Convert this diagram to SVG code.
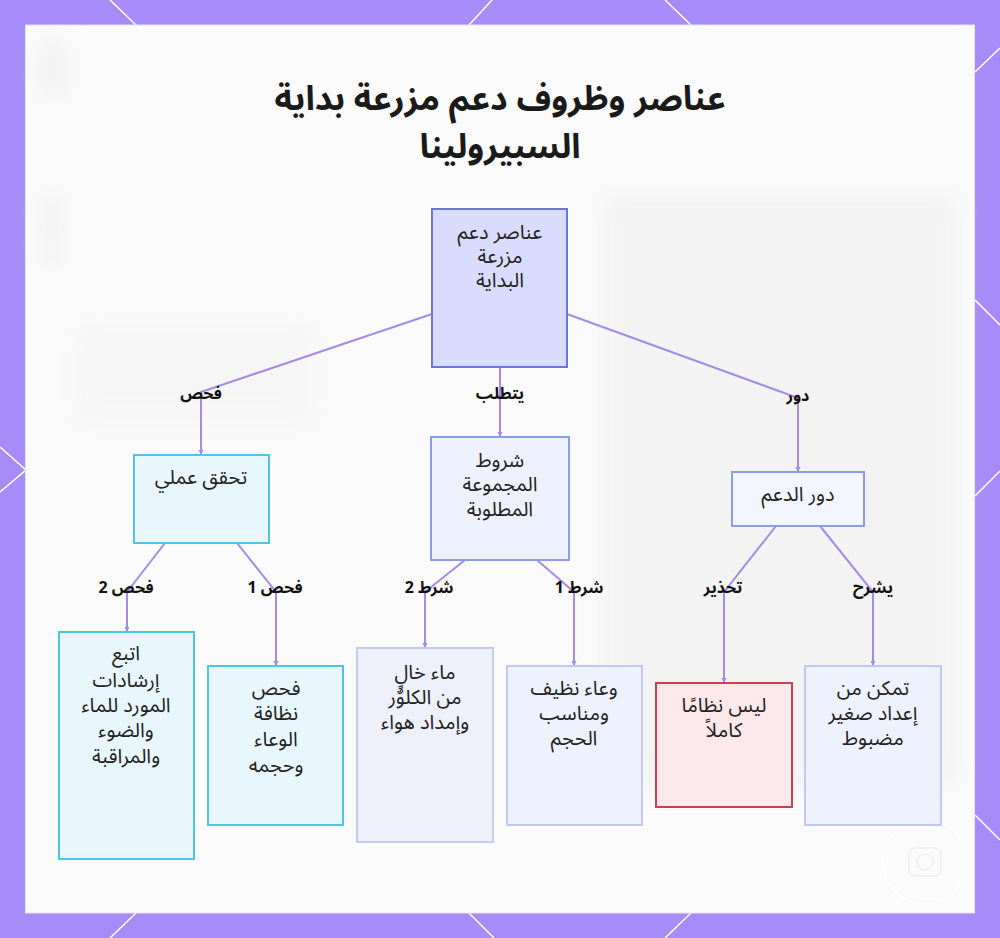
<svg xmlns="http://www.w3.org/2000/svg" width="1000" height="938" viewBox="0 0 1000 938">
<defs>
<style>
.t{font-family:"Noto Sans Arabic","Noto Sans","DejaVu Sans",sans-serif;fill:#222;text-anchor:middle}
.title{font-size:34px;font-weight:700;fill:#1a1a1a}
.nt{font-size:20px}
.lb{font-size:16px;font-weight:700;fill:#111}
.e{fill:none;stroke:#a58be8;stroke-width:2}
.deco{stroke:#fff;stroke-width:1.5;fill:none}
</style>
<filter id="blur" x="-20%" y="-20%" width="140%" height="140%"><feGaussianBlur stdDeviation="14"/></filter>
<marker id="ah" markerWidth="6" markerHeight="6" refX="5" refY="3" orient="auto" markerUnits="userSpaceOnUse"><path d="M0,0.5 L5,3 L0,5.5 z" fill="#a58be8"/></marker>
</defs>
<rect width="1000" height="938" fill="#a78bf8"/>
<g class="deco">
<path d="M110,0 L136,25 M492,0 L469,25 M665,0 L691,25"/>
<path d="M136,913 L110,938 M469,913 L494,938 M691,913 L665,938"/>
<path d="M0,447 L26,470 L0,492"/>
<path d="M975,72 L1000,48 M975,300 L1000,325 M975,496 L1000,471 M975,815 L1000,840"/>
</g>
<rect x="25.5" y="25" width="949" height="888" fill="#fbfbfb" stroke="#e8e2fb" stroke-width="1"/>
<g filter="url(#blur)" opacity="0.4">
<rect x="600" y="190" width="360" height="600" fill="#e6e9e6"/>
<rect x="40" y="40" width="26" height="60" fill="#e0e0e0"/>
<rect x="40" y="190" width="24" height="80" fill="#e4e4e4"/>
<rect x="70" y="320" width="250" height="110" fill="#f0f0f0"/>
</g>
<g opacity="0.7">
<circle cx="925" cy="862" r="42" fill="none" stroke="#ffffff" stroke-width="1.5"/>
<rect x="909" y="848" width="32" height="28" rx="6" fill="none" stroke="#e6e6e6" stroke-width="1.2"/>
<circle cx="925" cy="862" r="8" fill="none" stroke="#e6e6e6" stroke-width="1.2"/>
</g>
<g id="title">
<text class="t title" x="500" y="110">عناصر وظروف دعم مزرعة بداية</text>
<text class="t title" x="500" y="158">السبيرولينا</text>
</g>
<g id="connectors">
<path class="e" d="M432,314 L201,392 L201,455" marker-end="url(#ah)"/>
<path class="e" d="M500,367 L500,437" marker-end="url(#ah)"/>
<path class="e" d="M567,314 L798,398 L798,472" marker-end="url(#ah)"/>
<path class="e" d="M165,543 L127,592 L127,632" marker-end="url(#ah)"/>
<path class="e" d="M237,543 L276,592 L276,666" marker-end="url(#ah)"/>
<path class="e" d="M465,560 L425,592 L425,648" marker-end="url(#ah)"/>
<path class="e" d="M537,560 L574,592 L574,666" marker-end="url(#ah)"/>
<path class="e" d="M776,526 L724,592 L724,683" marker-end="url(#ah)"/>
<path class="e" d="M820,526 L873,592 L873,666" marker-end="url(#ah)"/>
<text class="t lb" x="201" y="399">فحص</text>
<text class="t lb" x="500" y="399">يتطلب</text>
<text class="t lb" x="798" y="401">دور</text>
<text class="t lb" x="126" y="593">فحص 2</text>
<text class="t lb" x="275" y="593">فحص 1</text>
<text class="t lb" x="429" y="593">شرط 2</text>
<text class="t lb" x="579" y="593">شرط 1</text>
<text class="t lb" x="723" y="593">تحذير</text>
<text class="t lb" x="873" y="593">يشرح</text>
</g>
<g id="root">
<rect x="432" y="209" width="135" height="158" fill="#d9dcfc" stroke="#6f75d9" stroke-width="2"/>
<text class="t nt" x="500" y="239">عناصر دعم</text>
<text class="t nt" x="500" y="263">مزرعة</text>
<text class="t nt" x="500" y="287">البداية</text>
</g>
<g id="practical">
<rect x="134" y="455" width="135" height="88" fill="#e8f7fd" stroke="#4fc4e6" stroke-width="2"/>
<text class="t nt" x="201" y="484">تحقق عملي</text>
</g>
<g id="conditions">
<rect x="431" y="437" width="138" height="123" fill="#eef2fe" stroke="#8d9ce6" stroke-width="2"/>
<text class="t nt" x="500" y="467">شروط</text>
<text class="t nt" x="500" y="491">المجموعة</text>
<text class="t nt" x="500" y="516">المطلوبة</text>
</g>
<g id="role">
<rect x="732" y="472" width="132" height="54" fill="#f4f6ff" stroke="#8d9ce6" stroke-width="2"/>
<text class="t nt" x="798" y="501">دور الدعم</text>
</g>
<g id="check2">
<rect x="59" y="632" width="135" height="227" fill="#e8f7fd" stroke="#4fc4e6" stroke-width="2"/>
<text class="t nt" x="126" y="660">اتبع</text>
<text class="t nt" x="126" y="687">إرشادات</text>
<text class="t nt" x="126" y="712">المورد للماء</text>
<text class="t nt" x="126" y="737">والضوء</text>
<text class="t nt" x="126" y="763">والمراقبة</text>
</g>
<g id="check1">
<rect x="208" y="666" width="135" height="159" fill="#e8f7fd" stroke="#4fc4e6" stroke-width="2"/>
<text class="t nt" x="276" y="695">فحص</text>
<text class="t nt" x="276" y="720">نظافة</text>
<text class="t nt" x="276" y="746">الوعاء</text>
<text class="t nt" x="276" y="772">وحجمه</text>
</g>
<g id="cond2">
<rect x="357" y="648" width="136" height="194" fill="#eef0fc" stroke="#c4caf3" stroke-width="2"/>
<text class="t nt" x="425" y="679">ماء خالٍ</text>
<text class="t nt" x="425" y="704">من الكلوٌر</text>
<text class="t nt" x="425" y="729">وإمداد هواء</text>
</g>
<g id="cond1">
<rect x="507" y="666" width="135" height="159" fill="#eef2fe" stroke="#c0c8f5" stroke-width="2"/>
<text class="t nt" x="574" y="695">وعاء نظيف</text>
<text class="t nt" x="574" y="720">ومناسب</text>
<text class="t nt" x="574" y="745">الحجم</text>
</g>
<g id="warning">
<rect x="656" y="683" width="136" height="124" fill="#fde8eb" stroke="#c9404e" stroke-width="2"/>
<text class="t nt" x="724" y="712">ليس نظامًا</text>
<text class="t nt" x="724" y="737">كاملاً</text>
</g>
<g id="explain">
<rect x="805" y="666" width="136" height="159" fill="#eef2fe" stroke="#c0c8f5" stroke-width="2"/>
<text class="t nt" x="873" y="695">تمكن من</text>
<text class="t nt" x="873" y="720">إعداد صغير</text>
<text class="t nt" x="873" y="745">مضبوط</text>
</g>
</svg>
